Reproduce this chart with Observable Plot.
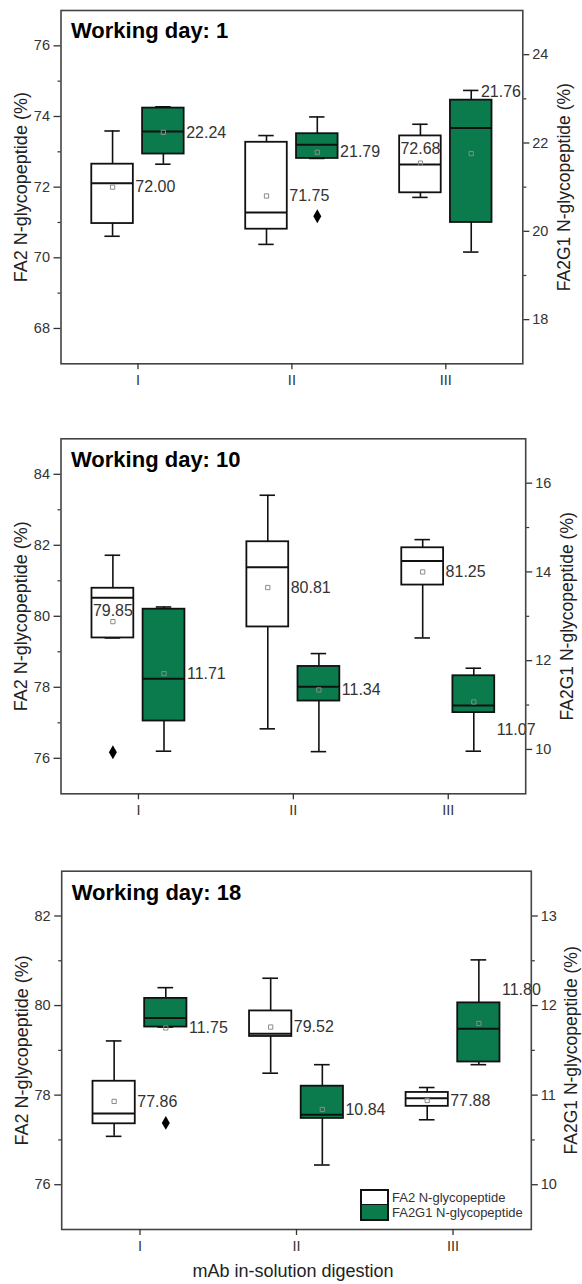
<!DOCTYPE html>
<html>
<head>
<meta charset="utf-8">
<script src="https://cdn.jsdelivr.net/npm/d3@7"></script>
<script src="https://cdn.jsdelivr.net/npm/@observablehq/plot@0.6"></script>
<style>
  html, body { margin: 0; padding: 0; background: #fff; }
  #root { position: relative; width: 582px; height: 1284px; background: #fff; font-family: "Liberation Sans", Arial, sans-serif; overflow: hidden; }
  .panel { position: absolute; left: 0; }
  .legend { position: absolute; left: 360px; top: 1190px; font-size: 13px; color: #333; }
  .legend .row { display: flex; align-items: center; height: 15px; }
  .legend .sw { width: 25px; height: 13px; border: 2px solid #111; box-sizing: content-box; margin-right: 3px; }
  .legend .row + .row .sw { border-top: 0; height: 14px; }
</style>
</head>
<body>
<div id="root"></div>
<script>
// ---------------- DATA ----------------
const categories = ["I", "II", "III"];
const dayTitles = ["Working day: 1", "Working day: 10", "Working day: 18"];
const seriesNames = ["FA2 N-glycopeptide", "FA2G1 N-glycopeptide"];
const leftAxisLabel = "FA2 N-glycopeptide (%)";
const rightAxisLabel = "FA2G1 N-glycopeptide (%)";
const xAxisLabel = "mAb in-solution digestion";

const leftDomains = [[67, 77], [75, 85], [75, 83]];
const rightDomains = [[17, 25], [9, 17], [9.5, 13.5]];
const leftTicks = [[68, 70, 72, 74, 76], [76, 78, 80, 82, 84], [76, 78, 80, 82]];
const leftMinorTicks = [[69, 71, 73, 75], [77, 79, 81, 83], [77, 79, 81]];
const rightTicks = [[18, 20, 22, 24], [10, 12, 14, 16], [10, 11, 12, 13]];
const rightMinorTicks = [[19, 21, 23], [11, 13, 15], [10.5, 11.5, 12.5]];

// FA2 N-glycopeptide (left axis), rows = working day, columns = digestion I, II, III
const fa2Min    = [[70.61, 70.38, 71.71], [79.39, 76.83, 79.39], [77.08, 78.49, 77.45]];
const fa2Q1     = [[70.97, 70.81, 71.84], [79.39, 79.70, 80.88], [77.36, 79.31, 77.75]];
const fa2Median = [[72.11, 71.28, 72.64], [80.52, 81.38, 81.56], [77.59, 79.37, 77.93]];
const fa2Q3     = [[72.65, 73.27, 73.45], [80.79, 82.10, 81.93], [78.31, 79.88, 78.06]];
const fa2Max    = [[73.59, 73.46, 73.78], [81.72, 83.41, 82.16], [79.21, 80.61, 78.17]];
const fa2Mean   = [[72.00, 71.75, 72.68], [79.85, 80.81, 81.25], [77.86, 79.52, 77.88]];
const fa2Outlier = [[null, null, null], [76.17, null, null], [null, null, null]];
const fa2LabelAt = [[72.00, 71.75, 73.08], [80.14, 80.81, 81.25], [77.86, 79.52, 77.88]];
const fa2LabelMode = [["right", "right", "center"], ["center", "right", "right"], ["right", "right", "right"]];

// FA2G1 N-glycopeptide (right axis)
const g1Min    = [[21.52, 21.65, 19.53], [9.96, 9.95, 9.96], [11.76, 10.22, 11.34]];
const g1Q1     = [[21.75, 21.65, 20.20], [10.64, 11.09, 10.83], [11.76, 10.74, 11.37]];
const g1Median = [[22.26, 21.96, 22.34], [11.59, 11.41, 10.99], [11.86, 10.78, 11.74]];
const g1Q3     = [[22.79, 22.21, 22.97], [13.16, 11.87, 11.66], [12.08, 11.10, 12.03]];
const g1Max    = [[22.82, 22.59, 23.19], [13.21, 12.16, 11.83], [12.20, 11.34, 12.51]];
const g1Mean   = [[22.24, 21.79, 21.76], [11.71, 11.34, 11.07], [11.75, 10.84, 11.80]];
const g1Outlier = [[null, 20.34, null], [null, null, null], [10.69, null, null]];
const g1LabelAt = [[22.24, 21.79, 23.15], [11.71, 11.34, 10.45], [11.75, 10.84, 12.17]];
const g1LabelMode = [["right", "right", "cap"], ["right", "right", "right"], ["right", "right", "right"]];

// ---------------- STYLE / LAYOUT ----------------
const GREEN = "#0b7b4e";
const TEXT = "#333";
const boxOffset = 0.165, boxWidth = 0.27, capHalf = 0.05;
const layout = [
  {top: 0,   height: 420, mt: 10,   mb: 56.7, ml: 60.5, mr: 59.7, titleDy: 27.3, leftDx: -40, rightDx: 41.3},
  {top: 420, height: 420, mt: 18.3, mb: 46.7, ml: 60.5, mr: 56.8, titleDy: 28.4, leftDx: -40, rightDx: 41.6},
  {top: 840, height: 444, mt: 30.7, mb: 55,   ml: 61.2, mr: 51.2, titleDy: 28.6, leftDx: -39, rightDx: 40.5}
];
const fmt2 = d3.format(".2f");
const fmtTick = v => String(+v.toFixed(2));

const root = document.getElementById("root");

function panel(p) {
  const L = layout[p];
  const [L0, L1] = leftDomains[p];
  const [R0, R1] = rightDomains[p];
  const toLeft = v => L0 + (v - R0) * (L1 - L0) / (R1 - R0);
  const fromLeft = v => R0 + (v - L0) * (R1 - R0) / (L1 - L0);
  const id = v => v;

  const boxes = [];
  categories.forEach((c, i) => {
    boxes.push({
      s: 0, x: i + 1 - boxOffset,
      min: fa2Min[p][i], q1: fa2Q1[p][i], med: fa2Median[p][i], q3: fa2Q3[p][i], max: fa2Max[p][i],
      mean: fa2Mean[p][i], out: fa2Outlier[p][i], labelY: fa2LabelAt[p][i], mode: fa2LabelMode[p][i],
      label: fmt2(fa2Mean[p][i])
    });
    const t = toLeft;
    boxes.push({
      s: 1, x: i + 1 + boxOffset,
      min: t(g1Min[p][i]), q1: t(g1Q1[p][i]), med: t(g1Median[p][i]), q3: t(g1Q3[p][i]), max: t(g1Max[p][i]),
      mean: t(g1Mean[p][i]), out: g1Outlier[p][i] == null ? null : t(g1Outlier[p][i]),
      labelY: t(g1LabelAt[p][i]), mode: g1LabelMode[p][i],
      label: fmt2(g1Mean[p][i])
    });
  });
  const outliers = boxes.filter(d => d.out != null);
  const centered = boxes.filter(d => d.mode === "center");
  const sideways = boxes.filter(d => d.mode !== "center");
  const labelX = d => d.mode === "cap" ? d.x + capHalf : d.x + boxWidth / 2;

  const chart = Plot.plot({
    width: 582,
    height: L.height,
    marginTop: L.mt,
    marginBottom: L.mb,
    marginLeft: L.ml,
    marginRight: L.mr,
    style: {fontFamily: '"Liberation Sans", Arial, sans-serif', fontSize: "14.5px", color: TEXT, background: "white"},
    x: {domain: [0.5, 3.5]},
    y: {domain: [L0, L1]},
    marks: [
      // whiskers
      Plot.ruleX(boxes, {x: "x", y1: "min", y2: "max", stroke: "#111", strokeWidth: 1.6}),
      Plot.ruleY(boxes, {y: "min", x1: d => d.x - capHalf, x2: d => d.x + capHalf, stroke: "#111", strokeWidth: 1.6}),
      Plot.ruleY(boxes, {y: "max", x1: d => d.x - capHalf, x2: d => d.x + capHalf, stroke: "#111", strokeWidth: 1.6}),
      // boxes
      Plot.rect(boxes, {x1: d => d.x - boxWidth / 2, x2: d => d.x + boxWidth / 2, y1: "q1", y2: "q3",
        fill: d => d.s === 0 ? "white" : GREEN, stroke: "#111", strokeWidth: 1.8}),
      // medians
      Plot.ruleY(boxes, {y: "med", x1: d => d.x - boxWidth / 2, x2: d => d.x + boxWidth / 2, stroke: "#111", strokeWidth: 2}),
      // means
      Plot.dot(boxes, {x: "x", y: "mean", symbol: "square", r: 2.4, fill: "none", stroke: "#8a8a8a", strokeWidth: 1}),
      // outliers
      Plot.dot(outliers, {x: "x", y: "out", symbol: "diamond", r: 4.2, fill: "#000"}),
      // mean labels
      Plot.text(sideways, {x: labelX, y: "labelY", text: "label", textAnchor: "start", dx: 2, fontSize: 16, fill: TEXT}),
      Plot.text(centered, {x: "x", y: "labelY", text: "label", textAnchor: "middle", fontSize: 16, fill: TEXT}),
      // frame
      Plot.frame({stroke: "#444", strokeWidth: 1.6}),
      // axes
      Plot.axisY({ticks: leftTicks[p], tickSize: 7, tickPadding: 4, tickFormat: id, label: null, strokeWidth: 1.3}),
      Plot.axisY({ticks: leftMinorTicks[p], tickSize: 3, tickFormat: () => "", label: null, strokeWidth: 1.2}),
      Plot.axisY({anchor: "right", ticks: rightTicks[p].map(toLeft), tickSize: 6, tickPadding: 3.5,
        tickFormat: v => fmtTick(fromLeft(v)), label: null, strokeWidth: 1.3}),
      Plot.axisY({anchor: "right", ticks: rightMinorTicks[p].map(toLeft), tickSize: 3, tickFormat: () => "", label: null, strokeWidth: 1.2}),
      Plot.axisX({ticks: [1, 2, 3], tickSize: 6, tickPadding: 5, tickFormat: v => categories[v - 1], label: null, strokeWidth: 1.3}),
      // axis titles
      Plot.text([leftAxisLabel], {frameAnchor: "left", text: d => d, rotate: -90, textAnchor: "middle", lineAnchor: "middle",
        dx: L.leftDx, fontSize: 18, fill: "#222"}),
      Plot.text([rightAxisLabel], {frameAnchor: "right", text: d => d, rotate: -90, textAnchor: "middle", lineAnchor: "middle",
        dx: L.rightDx, fontSize: 17.5, fill: "#222"}),
      // panel title
      Plot.text([dayTitles[p]], {frameAnchor: "top-left", text: d => d, textAnchor: "start", lineAnchor: "bottom",
        dx: 10, dy: L.titleDy, fontSize: 22, fontWeight: "bold", fill: "#000"}),
      ...(p === 2 ? [Plot.text([xAxisLabel], {frameAnchor: "bottom", text: d => d, textAnchor: "middle", lineAnchor: "bottom",
        dx: -3.5, dy: 47.7, fontSize: 18, fill: "#222"})] : [])
    ]
  });
  chart.classList.add("panel");
  chart.style.top = L.top + "px";
  chart.style.position = "absolute";
  root.appendChild(chart);
}

[0, 1, 2].forEach(panel);

// legend (inside the bottom panel)
const legend = document.createElement("div");
legend.className = "legend";
seriesNames.forEach((name, i) => {
  const row = document.createElement("div");
  row.className = "row";
  const sw = document.createElement("div");
  sw.className = "sw";
  sw.style.background = i === 0 ? "white" : GREEN;
  const tx = document.createElement("span");
  tx.textContent = name;
  row.appendChild(sw);
  row.appendChild(tx);
  legend.appendChild(row);
});
root.appendChild(legend);
</script>
</body>
</html>
